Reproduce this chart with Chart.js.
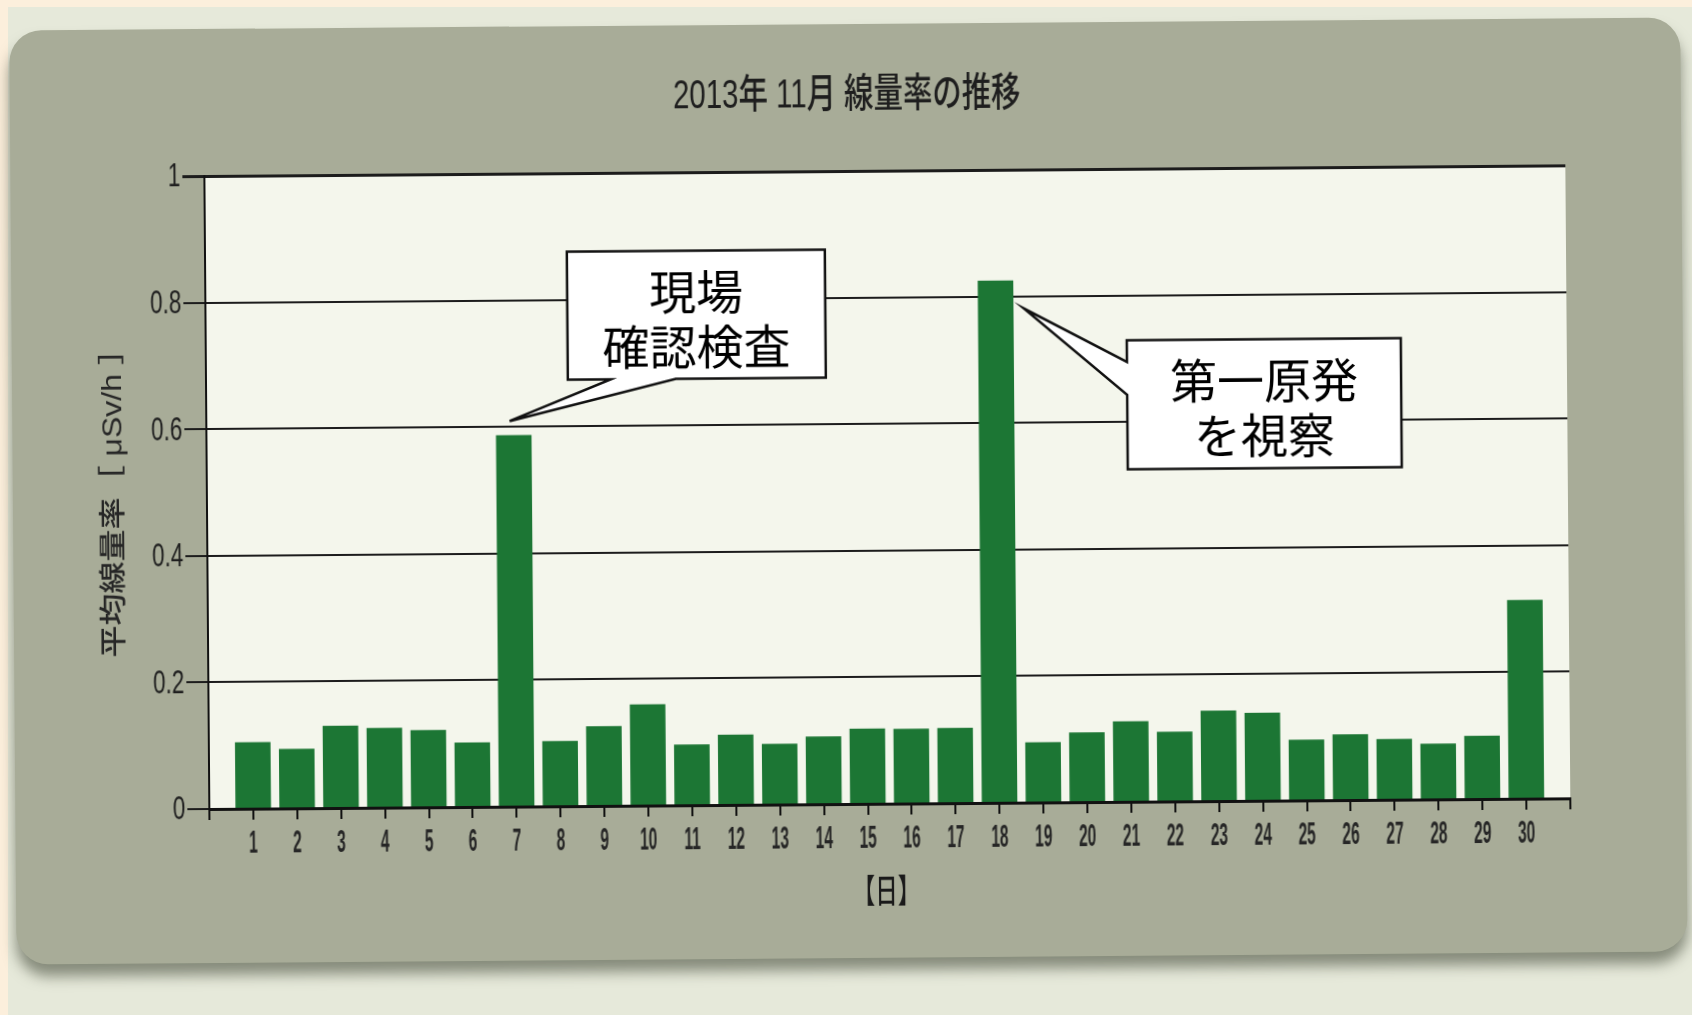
<!DOCTYPE html>
<html lang="ja">
<head>
<meta charset="utf-8">
<title>2013年 11月 線量率の推移</title>
<script src="https://cdn.jsdelivr.net/npm/chart.js@4.4.1/dist/chart.umd.min.js"></script>
<style>
  html, body { margin: 0; padding: 0; }
  body { width: 1692px; height: 1015px; overflow: hidden; background: #fcefdc; position: relative; }
  #paper { position: absolute; left: 8px; top: 7px; right: 0; bottom: 0; background: #e6e9da; }
  #sheet { position: absolute; left: 0; top: 0; width: 1692px; height: 1015px; transform: rotate(-0.45deg); }
  #panel { position: absolute; left: 13px; top: 24px; width: 1671px; height: 934px; background: #a8ac98;
           border-radius: 32px; box-shadow: 0 12px 14px rgba(70, 76, 60, 0.6); }
  #chart { position: absolute; left: 0; top: 0; }
</style>
</head>
<body>
<div id="paper"></div>
<div id="sheet">
  <div id="panel"></div>
  <canvas id="chart" width="1692" height="1015"></canvas>
</div>
<script>
// daily mean dose rate, November 2013
const days = ["1", "2", "3", "4", "5", "6", "7", "8", "9", "10",
  "11", "12", "13", "14", "15", "16", "17", "18", "19", "20",
  "21", "22", "23", "24", "25", "26", "27", "28", "29", "30"];
const doseRate = [0.105, 0.094, 0.130, 0.126, 0.122, 0.102, 0.587, 0.103, 0.126, 0.160,
  0.096, 0.111, 0.096, 0.107, 0.119, 0.118, 0.119, 0.825, 0.095, 0.110,
  0.127, 0.110, 0.143, 0.139, 0.096, 0.104, 0.096, 0.088, 0.100, 0.314];
const yTicks = [0, 0.2, 0.4, 0.6, 0.8, 1];

const titleText = "2013年 11月 線量率の推移";
const yTitle = "平均線量率［ μSv/h ］";
const xTitle = "【日】";

const noteDays = ["7", "18"];
const noteLines = [["現場", "確認検査"], ["第一原発", "を視察"]];

// one empty slot on each side so the first/last bar sit a full day away from the axes
const labels = ["", ...days, ""];
const values = [null, ...doseRate, null];

const LATIN = "'Liberation Sans', 'Noto Sans CJK JP', sans-serif";
const CJK = "'Noto Sans CJK JP', sans-serif";

// text drawn narrower than the font, like the original screen capture
function squeezed(ctx, text, x, y, o) {
  ctx.save();
  ctx.translate(x, y);
  if (o.rotate) ctx.rotate(o.rotate);
  ctx.scale(o.sx || 1, o.sy || 1);
  ctx.font = o.font;
  ctx.fillStyle = o.color || "#2a2a2a";
  ctx.textAlign = o.align || "center";
  ctx.textBaseline = "middle";
  ctx.fillText(text, 0, 0);
  ctx.restore();
}

const plotBackground = {
  id: "plotBackground",
  beforeDraw(chart) {
    const { ctx, chartArea: a } = chart;
    ctx.save();
    ctx.fillStyle = "#f4f6ec";
    ctx.fillRect(a.left, a.top, a.right - a.left, a.bottom - a.top);
    ctx.restore();
  },
};

const axisText = {
  id: "axisText",
  afterDraw(chart) {
    const { ctx, chartArea: a, scales } = chart;
    const xs = scales.x, ys = scales.y;

    squeezed(ctx, titleText, 850, 96, { font: `500 40px ${LATIN}`, sx: 0.735, color: "#1e1e1e" });

    ys.ticks.forEach((t, i) => {
      squeezed(ctx, String(t.value), a.left - 24, ys.getPixelForTick(i) + 1,
        { font: `400 34px ${LATIN}`, sx: 0.66, align: "right", color: "#1e1e1e" });
    });

    xs.ticks.forEach((t, i) => {
      const lab = xs.getLabelForValue(t.value);
      if (!lab) return;
      squeezed(ctx, lab, xs.getPixelForTick(i), a.bottom + 35,
        { font: `700 31px ${LATIN}`, sx: 0.5, color: "#262626" });
    });

    squeezed(ctx, yTitle, 114, (a.top + a.bottom) / 2 + 2,
      { font: `500 32px ${LATIN}`, rotate: -Math.PI / 2, sy: 0.85, color: "#262626" });

    squeezed(ctx, xTitle, (a.left + a.right) / 2 - 4, 890,
      { font: `500 33px ${CJK}`, sx: 0.68, color: "#1a1a1a" });
  },
};

// speech-bubble notes pointing at a bar top
const callouts = {
  id: "callouts",
  afterDraw(chart, args, opts) {
    const { ctx, scales } = chart;
    const bars = chart.getDatasetMeta(0).data;
    opts.boxes.forEach((b, n) => {
      const bar = bars[labels.indexOf(noteDays[n])];
      const cx = scales.x.getPixelForValue(b.cx);
      const cy = scales.y.getPixelForValue(b.cy);
      const L = cx - b.w / 2, R = cx + b.w / 2, T = cy - b.h / 2, B = cy + b.h / 2;
      const tx = bar.x + b.tip[0], ty = bar.y + b.tip[1];

      ctx.save();
      ctx.beginPath();
      ctx.moveTo(L, T);
      ctx.lineTo(R, T);
      ctx.lineTo(R, B);
      if (b.side === "bottom") {
        ctx.lineTo(cx + b.base[1], B);
        ctx.lineTo(tx, ty);
        ctx.lineTo(cx + b.base[0], B);
        ctx.lineTo(L, B);
      } else {
        ctx.lineTo(L, B);
        ctx.lineTo(L, cy + b.base[1]);
        ctx.lineTo(tx, ty);
        ctx.lineTo(L, cy + b.base[0]);
      }
      ctx.closePath();
      ctx.fillStyle = "#ffffff";
      ctx.fill();
      ctx.lineWidth = 2.5;
      ctx.lineJoin = "miter";
      ctx.strokeStyle = "#111";
      ctx.stroke();

      ctx.fillStyle = "#000";
      ctx.font = `400 47px ${CJK}`;
      ctx.textAlign = "center";
      ctx.textBaseline = "middle";
      const lines = noteLines[n];
      lines.forEach((s, i) => {
        ctx.fillText(s, cx, cy + 4 + (i - (lines.length - 1) / 2) * 55);
      });
      ctx.restore();
    });
  },
};

new Chart(document.getElementById("chart"), {
  type: "bar",
  data: {
    labels: labels,
    datasets: [{
      data: values,
      backgroundColor: "#1c7634",
      borderWidth: 0,
      categoryPercentage: 1,
      barPercentage: 0.81,
    }],
  },
  options: {
    responsive: false,
    animation: false,
    devicePixelRatio: 1,
    layout: { padding: { top: 171, right: 124, bottom: 0, left: 0 } },
    plugins: {
      legend: { display: false },
      title: { display: false },
      tooltip: { enabled: false },
      callouts: {
        boxes: [
          { cx: 11.18, cy: 0.775, w: 258, h: 128, side: "bottom", base: [-86, -21], tip: [-4, -14] },
          { cx: 24.1, cy: 0.627, w: 274, h: 129, side: "left", base: [-43, -10], tip: [28, 28] },
        ],
      },
    },
    scales: {
      x: {
        offset: false,
        grid: { offset: false, drawOnChartArea: false, drawTicks: true, tickLength: 11, color: "#111", lineWidth: 2 },
        border: { display: true, color: "#111", width: 3 },
        ticks: { display: false, autoSkip: false },
        afterFit: (s) => { s.height = 211; },
      },
      y: {
        min: 0,
        max: 1,
        afterBuildTicks: (s) => { s.ticks = yTicks.map((v) => ({ value: v })); },
        grid: {
          color: "#1c1c1c",
          lineWidth: (c) => (c.tick && c.tick.value === 1 ? 3 : 2),
          drawTicks: true,
          tickLength: 22,
        },
        border: { display: true, color: "#111", width: 2 },
        ticks: { display: false },
        afterFit: (s) => { s.width = 207; },
      },
    },
  },
  plugins: [plotBackground, axisText, callouts],
});
</script>
</body>
</html>
